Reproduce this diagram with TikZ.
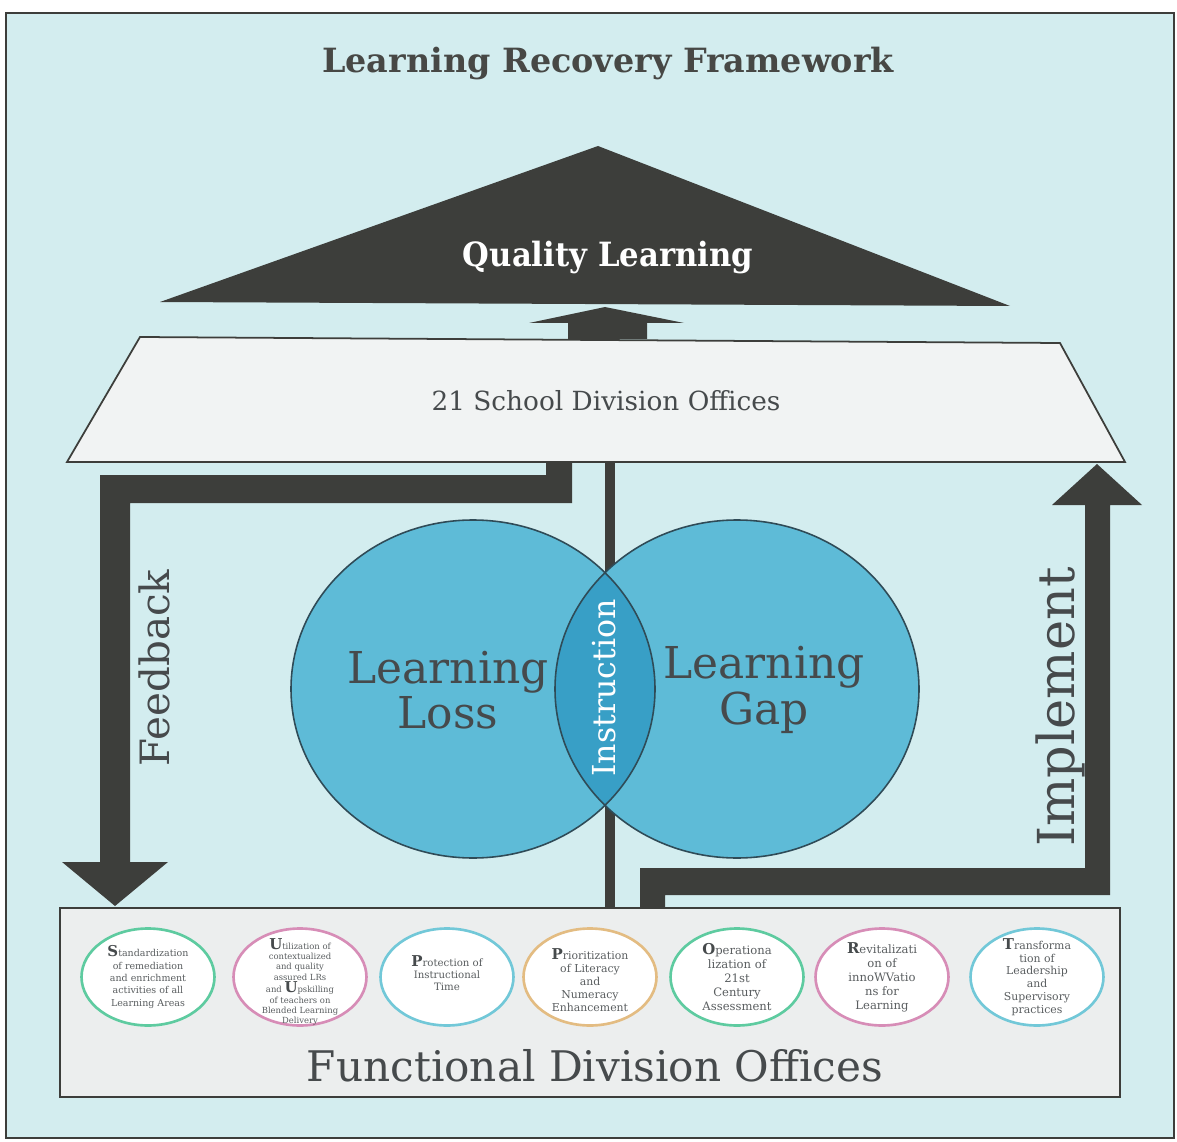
\documentclass[tikz,border=0pt]{standalone}
\usepackage{fontspec}
\setmainfont{DejaVu Serif}
\usepackage{graphicx}
\usetikzlibrary{shapes.geometric}

\definecolor{paper}{HTML}{D3EDEF}
\definecolor{ink}{HTML}{3D3E3B}
\definecolor{slab}{HTML}{F1F3F3}
\definecolor{plinth}{HTML}{ECEEEE}
\definecolor{bubble}{HTML}{5EBBD7}
\definecolor{lensblue}{HTML}{389FC6}
\definecolor{rim}{HTML}{2F4B57}
\definecolor{txt}{HTML}{464A4C}
\definecolor{smalltxt}{HTML}{5A5E60}
\definecolor{rgreen}{HTML}{5ECBA0}
\definecolor{rpink}{HTML}{D78DB7}
\definecolor{rcyan}{HTML}{72C8D8}
\definecolor{rtan}{HTML}{E3BC82}

\newcommand\bigini[1]{{\fontsize{8.5}{6}\selectfont\bfseries\color{txt}#1}}

\tikzset{
  pillar/.style={ellipse, draw=#1, line width=1.5pt, fill=white,
    minimum width=2.66cm, minimum height=1.94cm, inner sep=0pt},
  pilltext/.style={align=center, text=smalltxt, inner sep=0pt},
  bigword/.style={text=txt, align=center},
}

\begin{document}
\begin{tikzpicture}[x=0.02cm,y=-0.02cm]
  % page and frame
  \fill[white] (0,0) rectangle (1177,1142);
  \useasboundingbox (0,0) rectangle (1177,1142);
  \draw[ink, line width=1.2pt, fill=paper] (6,13) rectangle (1174,1138);

  % title
  \node[font=\fontsize{19}{22}\selectfont\bfseries, text=ink!95] (title) at (608,64) {Learning Recovery Framework};

  % roof triangle
  \fill[ink] (598,146) -- (1010,306) -- (160,302) -- cycle;
  \node[font=\fontsize{19}{22}\selectfont\bfseries, text=white] (quality) at (608,258) {\scalebox{0.92}[1]{Quality Learning}};

  % small upward arrow between slab and roof
  \fill[ink] (568,339) -- (568,323) -- (529,323) -- (605,307) -- (684,323) -- (647,323) -- (647,339) -- cycle;

  % school division slab
  \draw[ink, line width=1pt, fill=slab] (140,337) -- (1060,343) -- (1125,462) -- (67,462) -- cycle;
  \node[font=\fontsize{15}{18}\selectfont, text=txt] (sdo) at (606,401) {21 School Division Offices};

  % central pillar line
  \draw[ink, line width=0.2cm] (610,462) -- (610,908);

  % feedback arrow
  \fill[ink] (572,462) -- (572,503) -- (130,503) -- (130,862) -- (168,862) -- (115,906)
    -- (62,862) -- (100,862) -- (100,475) -- (546,475) -- (546,462) -- cycle;

  % implement arrow
  \fill[ink] (640,912) -- (640,868) -- (1085,868) -- (1085,505) -- (1052,505) -- (1097,464)
    -- (1142,505) -- (1110,505) -- (1110,895) -- (665,895) -- (665,912) -- cycle;

  % venn circles
  \fill[bubble] (473,689) ellipse [x radius=182, y radius=169];
  \fill[bubble] (737,689) ellipse [x radius=182, y radius=169];
  \begin{scope}
    \clip (473,689) ellipse [x radius=182, y radius=169];
    \fill[lensblue] (737,689) ellipse [x radius=182, y radius=169];
  \end{scope}
  \draw[rim, line width=0.9pt] (473,689) ellipse [x radius=182, y radius=169];
  \draw[rim, line width=0.9pt] (737,689) ellipse [x radius=182, y radius=169];

  \node[bigword, font=\fontsize{25}{26}\selectfont] (loss) at (448,690) {Learning\\Loss};
  \node[bigword, font=\fontsize{25}{26}\selectfont] (gap) at (764,690) {Learning\\Gap};
  \node[text=white, rotate=90, font=\fontsize{18}{20}\selectfont] (instr) at (604,688) {Instruction};

  \node[text=txt, rotate=90, font=\fontsize{23}{26}\selectfont] (feedback) at (154,668) {Feedback};
  \node[text=txt, rotate=90, font=\fontsize{29}{32}\selectfont] (implement) at (1060,707) {Implement};

  % functional division base
  \draw[ink, line width=1.2pt, fill=plinth] (60,908) rectangle (1120,1097);
  \node[text=txt, font=\fontsize{24}{28}\selectfont] (fdo) at (595,1066) {Functional Division Offices};

  % SUPPORT pillars: fixed-size rings with their wording laid over them
  \node[pillar=rgreen] (p1) at (148,977) {};
  \node[pillar=rpink]  (p2) at (300,977) {};
  \node[pillar=rcyan]  (p3) at (447,977) {};
  \node[pillar=rtan]   (p4) at (590,977) {};
  \node[pillar=rgreen] (p5) at (737,977) {};
  \node[pillar=rpink]  (p6) at (882,977) {};
  \node[pillar=rcyan]  (p7) at (1037,977) {};

  \node[pilltext, font=\fontsize{5.4}{7.0}\selectfont] (t1) at (p1)
    {\bigini{S}tandardization\\of remediation\\and enrichment\\activities of all\\Learning Areas};
  \node[pilltext, font=\fontsize{4.8}{5.8}\selectfont] (t2) at ([yshift=-0.1cm]p2)
    {\bigini{U}tilization of\\contextualized\\and quality\\assured LRs\\and \bigini{U}pskilling\\of teachers on\\Blended Learning\\Delivery};
  \node[pilltext, font=\fontsize{5.8}{7.0}\selectfont] (t3) at ([yshift=0.08cm]p3)
    {\bigini{P}rotection of\\Instructional\\Time};
  \node[pilltext, font=\fontsize{6.2}{7.4}\selectfont] (t4) at ([yshift=-0.06cm]p4)
    {\bigini{P}rioritization\\of Literacy\\and\\Numeracy\\Enhancement};
  \node[pilltext, font=\fontsize{6.6}{8.0}\selectfont] (t5) at (p5)
    {\bigini{O}perationa\\lization of\\21st\\Century\\Assessment};
  \node[pilltext, font=\fontsize{6.6}{8.0}\selectfont] (t6) at (p6)
    {\bigini{R}evitalizati\\on of\\innoWVatio\\ns for\\Learning};
  \node[pilltext, font=\fontsize{6.2}{7.3}\selectfont] (t7) at (p7)
    {\bigini{T}ransforma\\tion of\\Leadership\\and\\Supervisory\\practices};
\end{tikzpicture}
\end{document}
